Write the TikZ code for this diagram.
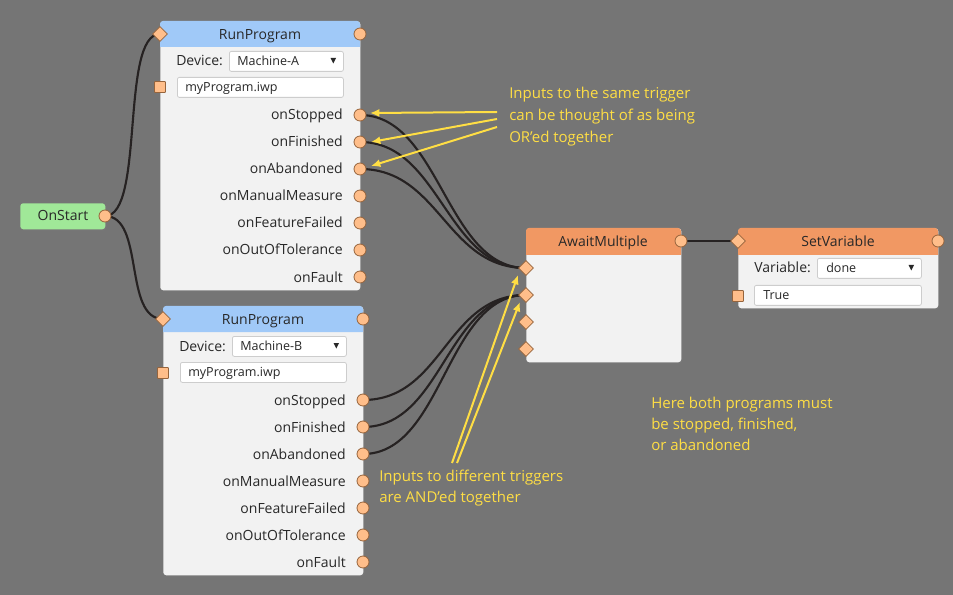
\documentclass[tikz,border=0pt]{standalone}
\usepackage{fontspec}
\setmainfont{Open Sans}
\usetikzlibrary{shapes.geometric,arrows.meta,shadows}
\definecolor{bgc}{RGB}{117,117,117}
\definecolor{bodyc}{RGB}{242,242,242}
\definecolor{hblue}{RGB}{160,201,248}
\definecolor{horange}{RGB}{241,152,99}
\definecolor{hgreen}{RGB}{160,232,152}
\definecolor{portfill}{RGB}{255,190,138}
\definecolor{portdraw}{RGB}{150,100,60}
\definecolor{wirec}{RGB}{38,34,34}
\definecolor{notec}{RGB}{255,222,68}
\definecolor{txt}{RGB}{40,40,40}
\definecolor{fieldline}{RGB}{205,205,205}
\pgfdeclarelayer{back}
\pgfdeclarelayer{bg}
\pgfdeclarelayer{wires}
\pgfsetlayers{back,bg,wires,main}
\begin{document}
\begin{tikzpicture}[x=0.75pt,y=-0.75pt,
  font=\fontsize{10.5pt}{12.6pt}\selectfont,
  box/.style={fill=bodyc, rounded corners=2.25pt, inner sep=0, anchor=north west,
    drop shadow={shadow xshift=0.9pt, shadow yshift=-0.9pt, opacity=0.3}},
  lbl/.style={text=txt, inner sep=0},
  small/.style={text=txt, inner sep=0, font=\fontsize{9.4pt}{11pt}\selectfont},
  field/.style={draw=fieldline, fill=white, rounded corners=1.5pt, line width=0.6pt, inner sep=0, anchor=north west},
  outport/.style={circle, draw=portdraw, fill=portfill, line width=0.6pt, minimum size=9pt, inner sep=0},
  inport/.style={diamond, draw=portdraw, fill=portfill, line width=0.6pt, minimum width=11.25pt, minimum height=11.25pt, inner sep=0},
  sqport/.style={rectangle, draw=portdraw, fill=portfill, line width=0.6pt, minimum size=8.25pt, inner sep=0, rounded corners=0.6pt},
  wire/.style={draw=wirec, line width=1.6pt},
  note/.style={text=notec, align=left, inner sep=0, anchor=north west, font=\fontsize{11.25pt}{16pt}\selectfont},
  arr/.style={draw=notec, line width=1.5pt, -{Latex[length=7pt,width=6pt]}}
]
\useasboundingbox (0,0) rectangle (953,595);
\begin{pgfonlayer}{back}
\fill[bgc] (0,0) rectangle (953,595);
\end{pgfonlayer}

\begin{pgfonlayer}{bg}
% OnStart
\node[box, fill=hgreen, minimum width=63.75pt, minimum height=19.5pt] (onstart) at (20,203) {};
% RunProgram A
\node[box, minimum width=150pt, minimum height=201.75pt] (A) at (160,21) {};
\fill[hblue] (160,47) [rounded corners=2.25pt] -- (160,21) -- (360,21) [sharp corners] -- (360,47) -- cycle;
% RunProgram B
\node[box, minimum width=150pt, minimum height=201.75pt] (B) at (163,306) {};
\fill[hblue] (163,332) [rounded corners=2.25pt] -- (163,306) -- (363,306) [sharp corners] -- (363,332) -- cycle;
% AwaitMultiple
\node[box, minimum width=116.25pt, minimum height=100.5pt] (AW) at (526,228) {};
\fill[horange] (526,255) [rounded corners=2.25pt] -- (526,228) -- (681,228) [sharp corners] -- (681,255) -- cycle;
% SetVariable
\node[box, minimum width=150pt, minimum height=60pt] (SV) at (738,228) {};
\fill[horange] (738,255) [rounded corners=2.25pt] -- (738,228) -- (938,228) [sharp corners] -- (938,255) -- cycle;
\end{pgfonlayer}

% titles
\node[lbl, anchor=base] (onstartT) at (63,221) {OnStart};
\node[lbl, anchor=base] (AT) at (260,39.5) {RunProgram};
\node[lbl, anchor=base] (BT) at (263,324.5) {RunProgram};
\node[lbl, anchor=base] (AWT) at (603,246.5) {AwaitMultiple};
\node[lbl, anchor=base] (SVT) at (838,246.5) {SetVariable};

% RunProgram A contents
\node[lbl, anchor=base west] (Adev) at (176,66) {Device:};
\node[field, minimum width=85.5pt, minimum height=15pt] (Adrop) at (229,51) {};
\node[small, anchor=base west] (AdropT) at (237,65.5) {Machine-A};
\fill[txt] (330.5,58) -- (336,58) -- (333.25,63.5) -- cycle;
\node[field, minimum width=124.5pt, minimum height=15pt] (Afile) at (177,77) {};
\node[small, anchor=base west] (AfileT) at (185,91.5) {myProgram.iwp};
\foreach \n/\t/\y in {1/onStopped/115,2/onFinished/142,3/onAbandoned/169,4/onManualMeasure/196,5/onFeatureFailed/223,6/onOutOfTolerance/250,7/onFault/277}{
  \node[lbl, anchor=base east] (Al\n) at (343,\y+5) {\t};
  \node[outport] (Ao\n) at (360,\y) {};
}
\node[inport] (Ain) at (160,34) {};
\node[outport] (Aout) at (360,34) {};
\node[sqport] (Asq) at (160,87) {};

% RunProgram B contents
\node[lbl, anchor=base west] (Bdev) at (179,351) {Device:};
\node[field, minimum width=85.5pt, minimum height=15pt] (Bdrop) at (232,336) {};
\node[small, anchor=base west] (BdropT) at (240,350.5) {Machine-B};
\fill[txt] (333.5,343) -- (339,343) -- (336.25,348.5) -- cycle;
\node[field, minimum width=124.5pt, minimum height=15pt] (Bfile) at (180,362) {};
\node[small, anchor=base west] (BfileT) at (188,376.5) {myProgram.iwp};
\foreach \n/\t/\y in {1/onStopped/400,2/onFinished/427,3/onAbandoned/454,4/onManualMeasure/481,5/onFeatureFailed/508,6/onOutOfTolerance/535,7/onFault/562}{
  \node[lbl, anchor=base east] (Bl\n) at (346,\y+5) {\t};
  \node[outport] (Bo\n) at (363,\y) {};
}
\node[inport] (Bin) at (163,319) {};
\node[outport] (Bout) at (363,319) {};
\node[sqport] (Bsq) at (163,373) {};

% OnStart port
\node[outport] (onstartO) at (105,216) {};

% AwaitMultiple ports
\node[outport] (AWout) at (681,241) {};
\foreach \n/\y in {1/268,2/295,3/322,4/349}{
  \node[inport] (AWi\n) at (526,\y) {};
}

% SetVariable contents
\node[lbl, anchor=base west] (SVvar) at (754,273) {Variable:};
\node[field, minimum width=78pt, minimum height=15pt] (SVdrop) at (817,258) {};
\node[small, anchor=base west] (SVdropT) at (826,272.5) {done};
\fill[txt] (908.5,265) -- (914,265) -- (911.25,270.5) -- cycle;
\node[field, minimum width=125.25pt, minimum height=15pt] (SVval) at (754,285) {};
\node[small, anchor=base west] (SVvalT) at (763,299.5) {True};
\node[inport] (SVin) at (738,241) {};
\node[outport] (SVout) at (938,241) {};
\node[sqport] (SVsq) at (738,296) {};

% wires
\begin{pgfonlayer}{wires}
\draw[wire] (onstartO.center) .. controls +(40,0) and +(-40,0) .. (Ain.center);
\draw[wire] (onstartO.center) .. controls +(40,0) and +(-40,0) .. (Bin.center);
\foreach \n in {1,2,3}{
  \draw[wire] (Ao\n.center) .. controls +(80,0) and +(-80,0) .. (AWi1.center);
  \draw[wire] (Bo\n.center) .. controls +(80,0) and +(-80,0) .. (AWi2.center);
}
\draw[wire] (AWout.center) -- (SVin.center);
\end{pgfonlayer}

% annotations
\node[note, font=\fontsize{11.25pt}{16.5pt}\selectfont] (note1) at (509,86.5) {Inputs to the same trigger\\can be thought of as being\\OR’ed together};
\node[note] (note2) at (379,469.5) {Inputs to different triggers\\are AND’ed together};
\node[note] (note3) at (651,396.5) {Here both programs must\\be stopped, finished,\\or abandoned};

\coordinate (s1) at (497,112);
\coordinate (s2) at (497,119);
\coordinate (s3) at (497,127);
\coordinate (s4) at (452,463);
\coordinate (s5) at (457,463);
\coordinate (t1) at (370,113);
\coordinate (t2) at (371,142);
\coordinate (t3) at (371,166);
\coordinate (t4) at (518,275);
\coordinate (t5) at (520,302);
\foreach \i in {1,...,5}{\draw[arr] (s\i) -- (t\i);}
\end{tikzpicture}
\end{document}
